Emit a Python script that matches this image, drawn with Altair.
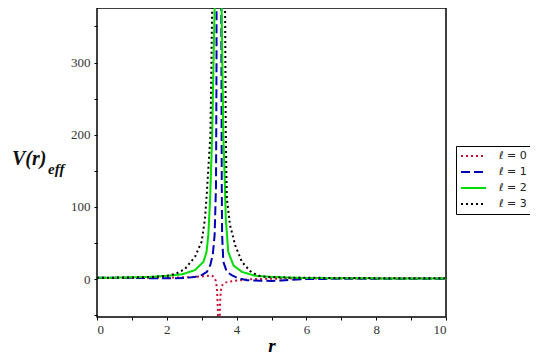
import altair as alt
import pandas as pd

labels = ["ℓ = 0", "ℓ = 1", "ℓ = 2", "ℓ = 3"]
colors = ["#c8102e", "#0000b4", "#00dd00", "#000000"]
dashes = [[2, 3], [9, 4], [1, 0], [2, 3]]

# l = 0 (red dotted)
l0_left_r = [0, 0.5, 1, 1.5, 2, 2.5, 2.8, 3.0, 3.15, 3.28, 3.35, 3.40, 3.43, 3.45, 3.465, 3.48, 3.49]
l0_left_v = [1.5, 1.5, 1.5, 1.8, 2, 2.5, 3, 3.8, 4.3, 5, 3, -2, -10, -25, -45, -100, -300]
l0_right_r = [3.50, 3.51, 3.525, 3.545, 3.57, 3.62, 3.7, 3.8, 3.95, 4.2, 4.5, 5.0, 5.6, 6.5, 8, 10]
l0_right_v = [-300, -80, -35, -18, -10, -6, -4.5, -3.5, -2.5, -1, 0, 0.5, 1, 1, 1, 1]

# l = 1 (blue dashed)
l1_left_r = [0, 0.5, 1, 1.5, 2, 2.5, 2.8, 3.0, 3.15, 3.25, 3.32, 3.37, 3.41, 3.425, 3.43]
l1_left_v = [2, 2, 1.8, 1.3, 1.1, 1.5, 3, 5.5, 10, 20, 35, 61, 130, 300, 600]
l1_right_r = [3.555, 3.565, 3.575, 3.585, 3.62, 3.72, 3.86, 4.05, 4.3, 4.7, 5.0, 5.3, 5.6, 6.0, 7, 10]
l1_right_v = [600, 300, 130, 61, 24, 10, 5.5, 1, -1.5, -2.3, -2.5, -1.8, -0.8, 0, 0.5, 0.5]

# l = 2 (green solid)
l2_left_r = [0, 0.5, 1, 1.5, 2, 2.43, 2.81, 3.05, 3.14, 3.19, 3.24, 3.30, 3.37, 3.40]
l2_left_v = [2, 2, 2.5, 3, 4.5, 6.5, 12.5, 24, 38, 61, 110, 200, 378, 600]
l2_right_r = [3.545, 3.57, 3.62, 3.665, 3.69, 3.76, 3.91, 4.15, 4.53, 5.0, 5.5, 6, 7, 8, 10]
l2_right_v = [600, 378, 200, 130, 84, 38, 19, 10, 4.6, 3, 2.2, 1.5, 1.2, 1.0, 1.0]

# l = 3 (black dotted)
l3_left_r = [0, 0.5, 1, 1.5, 2, 2.24, 2.52, 2.81, 3.0, 3.095, 3.14, 3.25, 3.30, 3.32]
l3_left_v = [2, 2, 2.3, 2.8, 4.5, 7, 14, 31, 52, 84, 114, 200, 378, 600]
l3_right_r = [3.64, 3.67, 3.69, 3.72, 3.81, 3.96, 4.15, 4.39, 4.53, 4.68, 4.9, 5.5, 6, 8, 10]
l3_right_v = [600, 378, 200, 112, 75, 47, 24, 11, 7, 4, 2.8, 2, 1.8, 1.3, 1]

series = [
    (l0_left_r, l0_left_v, l0_right_r, l0_right_v),
    (l1_left_r, l1_left_v, l1_right_r, l1_right_v),
    (l2_left_r, l2_left_v, l2_right_r, l2_right_v),
    (l3_left_r, l3_left_v, l3_right_r, l3_right_v),
]

rows = []
for lab, (lr, lv, rr, rv) in zip(labels, series):
    for r, v in zip(lr, lv):
        rows.append({"s": lab, "b": lab + "L", "r": r, "V": v})
    for r, v in zip(rr, rv):
        rows.append({"s": lab, "b": lab + "R", "r": r, "V": v})
df = pd.DataFrame(rows)

SERIF = "Liberation Serif"

leg = alt.Legend(
    orient="none", legendX=359, legendY=138, title=None,
    strokeColor="black", fillColor="white", padding=4,
    symbolType="stroke", symbolSize=625, symbolStrokeWidth=2,
    clipHeight=12, rowPadding=4,
    labelFont="DejaVu Sans", labelFontSize=11, labelOffset=12, labelColor="#222",
)

lines = alt.Chart(df).mark_line(clip=True, strokeWidth=2).encode(
    x=alt.X("r:Q", scale=alt.Scale(domain=[0, 10], nice=False),
            axis=alt.Axis(values=list(range(0, 11)),
                          labelExpr="datum.value % 2 == 0 ? datum.label : ''",
                          labelFont=SERIF, labelFontSize=13, labelColor="#333",
                          title="r", titleFont=SERIF, titleFontSize=19,
                          titleFontStyle="italic", titleFontWeight="bold", titlePadding=0,
                          labelPadding=3, tickSize=3)),
    y=alt.Y("V:Q", scale=alt.Scale(domain=[-52.5, 375.5], nice=False, zero=False),
            axis=alt.Axis(values=list(range(-50, 351, 50)),
                          labelExpr="datum.value % 100 == 0 ? datum.label : ''",
                          labelFont=SERIF, labelFontSize=13, labelColor="#333",
                          title=None, labelPadding=4, tickSize=3)),
    color=alt.Color("s:N", scale=alt.Scale(domain=labels, range=colors), legend=leg),
    strokeDash=alt.StrokeDash("s:N", scale=alt.Scale(domain=labels, range=dashes), legend=leg),
    detail="b:N",
    order=alt.Order("r:Q"),
)

title_df = pd.DataFrame({"t": ["V(r)"]})
eff_df = pd.DataFrame({"t": ["eff"]})
vt = alt.Chart(title_df).mark_text(
    align="left", baseline="alphabetic", font=SERIF, fontSize=20,
    fontStyle="italic", fontWeight="bold", color="#111"
).encode(x=alt.value(-85), y=alt.value(157), text="t:N")
et = alt.Chart(eff_df).mark_text(
    align="left", baseline="alphabetic", font=SERIF, fontSize=15,
    fontStyle="italic", fontWeight="bold", color="#111"
).encode(x=alt.value(-49), y=alt.value(166), text="t:N")

chart = alt.layer(lines, vt, et).properties(
    width=349, height=309,
    autosize=alt.AutoSizeParams(type="none"),
    padding={"left": 89, "top": 0, "right": 84, "bottom": 38},
).configure_view(
    stroke="black", strokeWidth=1.5
).configure_axis(
    domain=False, grid=False, tickColor="black", tickWidth=1,
)

chart.save("out.html", embed_options={"renderer": "svg", "actions": False})
